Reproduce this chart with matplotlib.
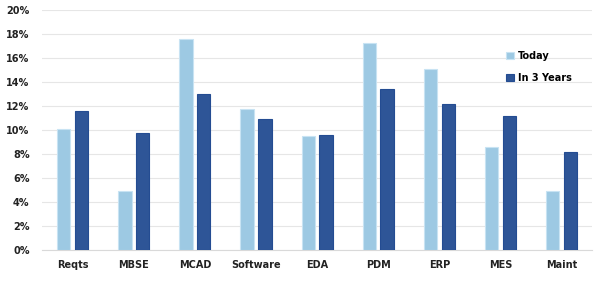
import matplotlib
matplotlib.use("Agg")
import matplotlib.pyplot as plt
import numpy as np
from matplotlib.ticker import FuncFormatter

categories = ["Reqts", "MBSE", "MCAD", "Software", "EDA", "PDM", "ERP", "MES", "Maint"]
today = [10.1, 4.9, 17.6, 11.75, 9.55, 17.3, 15.1, 8.6, 4.9]
in3years = [11.6, 9.8, 13.0, 10.9, 9.6, 13.4, 12.2, 11.15, 8.2]
yticks = [0, 2, 4, 6, 8, 10, 12, 14, 16, 18, 20]

plt.rcParams['font.family'] = ['DejaVu Sans']
fig = plt.figure(figsize=(6, 2.81), dpi=100)
ax = fig.add_axes([0.07, 0.11, 0.917, 0.854])

x = np.arange(len(categories))
w = 0.22
ax.bar(x - 0.145, today, w, color="#9DC9E3", edgecolor="#C8E3F3", linewidth=0.8, label="Today", zorder=3)
ax.bar(x + 0.145, in3years, w, color="#2E5597", edgecolor="#244C92", linewidth=0.8, label="In 3 Years", zorder=3)

ax.set_xlim(-0.5, len(categories) - 0.5)
ax.set_ylim(0, 20)
ax.set_yticks(yticks)
ax.yaxis.set_major_formatter(FuncFormatter(lambda v, p: f"{int(v)}%"))
ax.set_xticks(x)
ax.set_xticklabels(categories)
for lab in ax.get_xticklabels() + ax.get_yticklabels():
    lab.set_fontsize(7)
    lab.set_fontweight("bold")
    lab.set_color("#222222")
ax.tick_params(axis="both", length=0)
ax.tick_params(axis="x", pad=7)
ax.tick_params(axis="y", pad=9)
ax.grid(axis="y", color="#E6E6E6", linewidth=0.8, zorder=0)
for s in ["top", "right", "left"]:
    ax.spines[s].set_visible(False)
ax.spines["bottom"].set_color("#D9D9D9")
ax.spines["bottom"].set_linewidth(0.8)

leg = ax.legend(loc="upper left", bbox_to_anchor=(0.828, 0.865), frameon=False,
                prop={"size": 7, "weight": "bold"}, handlelength=0.75, handleheight=0.75,
                handletextpad=0.45, labelspacing=1.2)

fig.savefig("out.png", dpi=100)
